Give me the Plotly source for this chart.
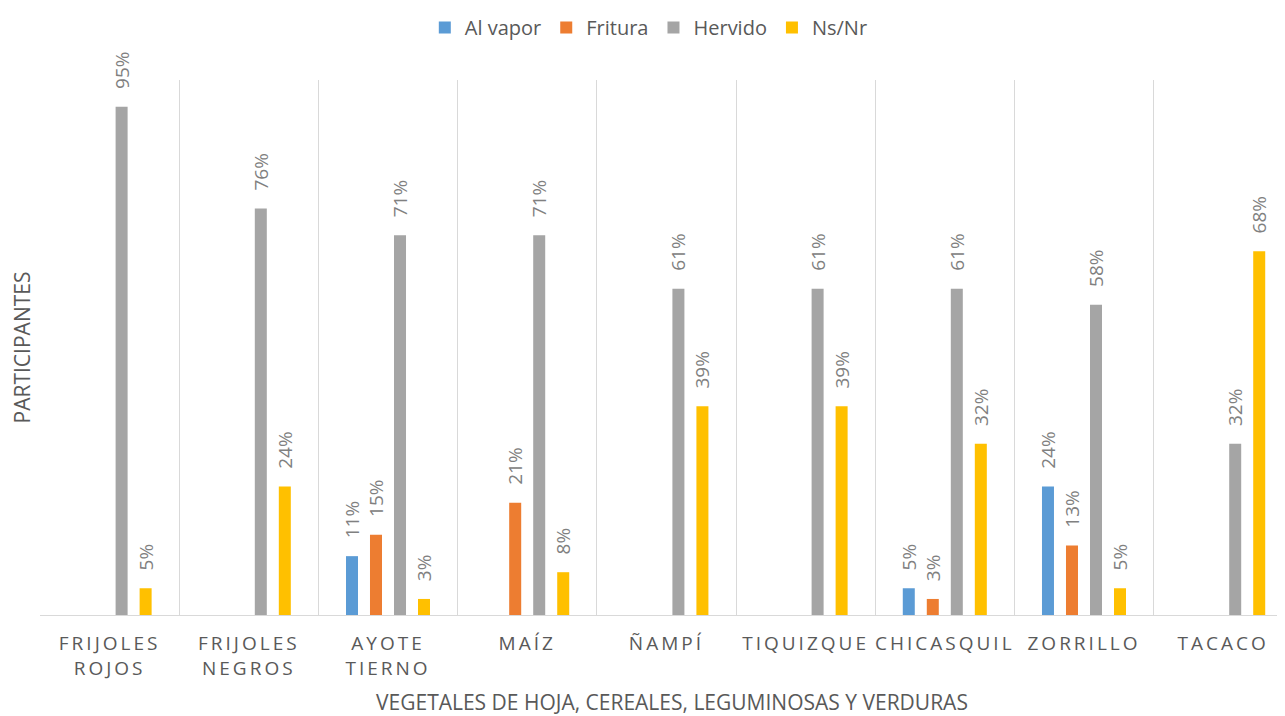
import plotly.graph_objects as go

categories = ["FRIJOLES<br>ROJOS", "FRIJOLES<br>NEGROS", "AYOTE<br>TIERNO", "MAÍZ", "ÑAMPÍ",
              "TIQUIZQUE", "CHICASQUIL", "ZORRILLO", "TACACO"]
al_vapor = [None, None, 11, None, None, None, 5, 24, None]
fritura = [None, None, 15, 21, None, None, 3, 13, None]
hervido = [95, 76, 71, 71, 61, 61, 61, 58, 32]
ns_nr = [5, 24, 3, 8, 39, 39, 32, 5, 68]

series = [
    ("Al vapor", al_vapor, "#5b9bd5"),
    ("Fritura", fritura, "#ed7d31"),
    ("Hervido", hervido, "#a5a5a5"),
    ("Ns/Nr", ns_nr, "#ffc000"),
]

FONT = "Open Sans"
LS = 3  # letter spacing px for category labels
X_TITLE = "VEGETALES DE HOJA, CEREALES, LEGUMINOSAS Y VERDURAS"
Y_TITLE = "PARTICIPANTES"


def spaced(label):
    return "<br>".join(f'<span style="letter-spacing:{LS}px">{p}</span>' for p in label.split("<br>"))


x_idx = list(range(len(categories)))

fig = go.Figure()
for name, vals, color in series:
    fig.add_trace(go.Bar(
        name=name,
        x=x_idx,
        y=vals,
        marker=dict(color=color, line=dict(width=0)),
        text=[None if v is None else f"{v}%" for v in vals],
        texttemplate="\u00a0\u00a0\u00a0%{text}",
        textposition="outside",
        textangle=-90,
        constraintext="none",
        cliponaxis=False,
        textfont=dict(family=FONT, size=19, color="#808080"),
        hoverinfo="skip",
    ))

fig.update_layout(
    width=1277,
    height=708,
    margin=dict(l=32, r=0, t=72, b=101),
    paper_bgcolor="white",
    plot_bgcolor="white",
    barmode="group",
    bargap=0.31,
    bargroupgap=0.5,
    font=dict(family=FONT, color="#595959"),
    legend=dict(
        orientation="h",
        x=0.489, xanchor="center",
        y=1.099, yanchor="middle",
        font=dict(family=FONT, size=20, color="#595959"),
        itemwidth=30,
        traceorder="normal",
    ),
    showlegend=True,
    annotations=[dict(
        text=X_TITLE, xref="paper", yref="paper",
        x=0.5076, y=-0.1626, xanchor="center", yanchor="middle",
        showarrow=False, borderpad=0,
        font=dict(family=FONT, size=21, color="#595959"),
    )],
)

fig.update_xaxes(
    tickmode="array",
    tickvals=x_idx,
    ticktext=[spaced(c) for c in categories],
    range=[-0.5, 8.444],
    showgrid=False,
    showline=True,
    linecolor="#d9d9d9",
    linewidth=1,
    ticks="",
    tickangle=0,
    ticklabelstandoff=11,
    tickfont=dict(family=FONT, size=19, color="#595959"),
    zeroline=False,
)

# category separator lines at category boundaries
fig.update_xaxes(
    minor=dict(tickmode="array", tickvals=[i - 0.5 for i in range(len(categories) + 1)],
               showgrid=True, gridcolor="#d9d9d9", gridwidth=1.3, ticks=""),
)

fig.update_yaxes(
    range=[0, 100],
    showgrid=False,
    showticklabels=False,
    zeroline=False,
    showline=False,
    title=dict(text=Y_TITLE, font=dict(family=FONT, size=21, color="#595959"), standoff=5),
)

fig.write_html("out.html")
